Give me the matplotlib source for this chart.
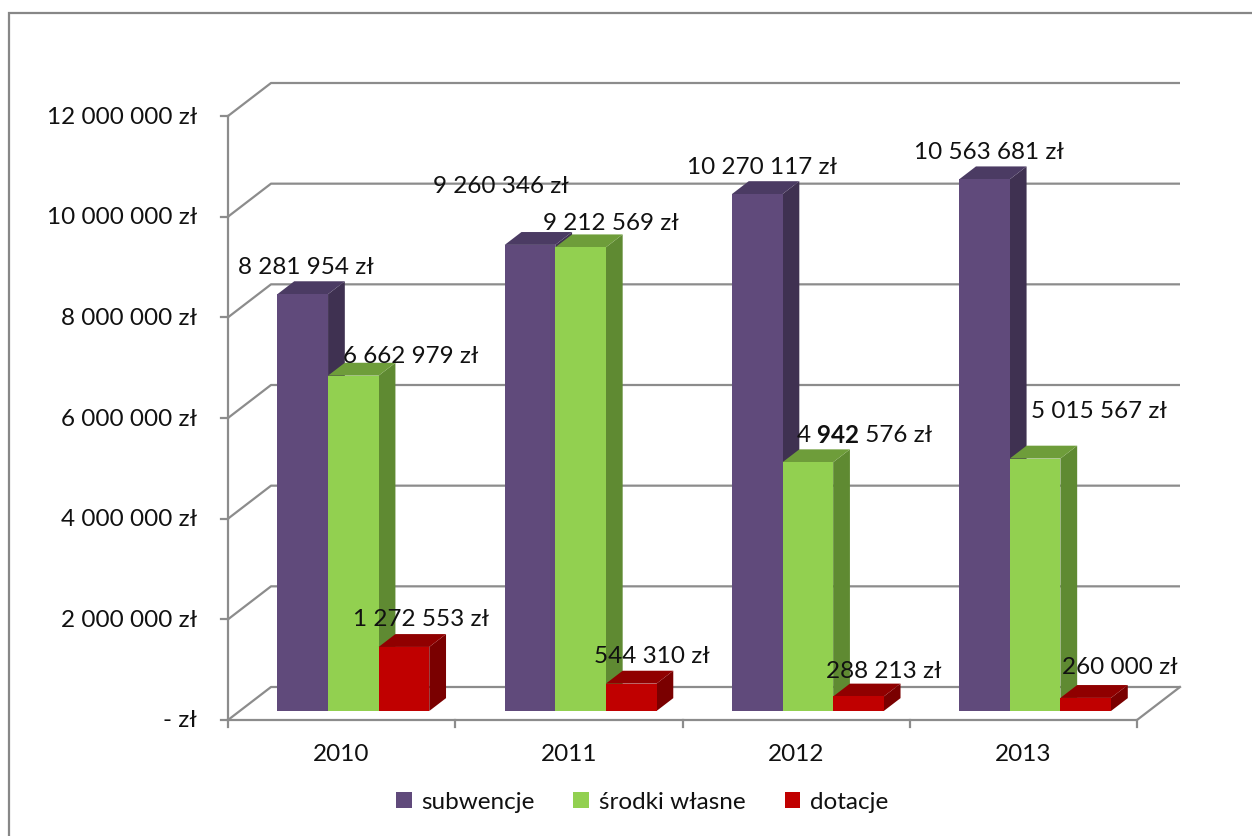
import numpy as np
import matplotlib
matplotlib.use("Agg")
import matplotlib.pyplot as plt
from matplotlib.patches import Polygon, Rectangle, Patch

plt.rcParams['font.family'] = ['Lato', 'DejaVu Sans']

# dane
lata = ['2010', '2011', '2012', '2013']
serie = ['subwencje', 'środki własne', 'dotacje']
subwencje = [8281954, 9260346, 10270117, 10563681]
srodki_wlasne = [6662979, 9212569, 4942576, 5015567]
dotacje = [1272553, 544310, 288213, 260000]
etykiety_osi = ['- zł', '2 000 000 zł', '4 000 000 zł', '6 000 000 zł',
                '8 000 000 zł', '10 000 000 zł', '12 000 000 zł']
wartosci_osi = [0, 2e6, 4e6, 6e6, 8e6, 10e6, 12e6]

wartosci = [subwencje, srodki_wlasne, dotacje]

# kolory: przod, bok, gora
kolory = [('#604A7B', '#3F3151', '#4B3B63'),
          ('#92D050', '#5F8A32', '#6E9D3A'),
          ('#C00000', '#7A0000', '#900000')]

# przesuniecia etykiet (px): dx, dy w gore
przes = [[(3, 28), (-29, 59), (5, 28), (4, 28)],
         [(57, 20), (30, 25), (57, 28), (64, 48)],
         [(17, 28), (21, 28), (25, 26), (34, 31)]]

W, H = 1252, 837
fig = plt.figure(figsize=(W / 100, H / 100), dpi=100)
x_l, x_r, y_0, y_12 = 228, 1137, 721, 117
ax = fig.add_axes([x_l / W, (H - y_0) / H, (x_r - x_l) / W, (y_0 - y_12) / H])
ax.set_xlim(-0.5, 3.5)
ax.set_ylim(0, 12e6)
ax.axis('off')

# glebokosc sciany w jednostkach danych
px_x = (x_r - x_l) / 4.0
px_y = (y_0 - y_12) / 12e6
ddx = 43 / px_x
ddy = 33 / px_y

siatka = '#8C8C8C'
lw = 1.6
tekst_kolor = '#111111'
# linie siatki: sciana tylna + lewa
for v in wartosci_osi:
    ax.plot([-0.5, -0.5 + ddx, 3.5 + ddx], [v, v + ddy, v + ddy],
            color=siatka, lw=lw, clip_on=False, zorder=1, solid_capstyle='butt')
    ax.plot([-0.5 - 7 / px_x, -0.5], [v, v], color=siatka, lw=lw, clip_on=False, zorder=1)
    ax.annotate(etykiety_osi[wartosci_osi.index(v)], (-0.5, v), xytext=(-31, 0),
                textcoords='offset pixels', ha='right', va='center', fontsize=17.5,
                color=tekst_kolor, annotation_clip=False)

# os pionowa i podloga
ax.plot([-0.5, -0.5], [0, 12e6], color=siatka, lw=lw, clip_on=False, zorder=1)
ax.plot([-0.5, 3.5, 3.5 + ddx], [0, 0, ddy], color=siatka, lw=lw, clip_on=False, zorder=1)
for g in range(5):
    ax.plot([g - 0.5, g - 0.5], [0, -7 / px_y], color=siatka, lw=lw, clip_on=False, zorder=1)

for g, rok in enumerate(lata):
    ax.annotate(rok, (g, 0), xytext=(0, -34), textcoords='offset pixels',
                ha='center', va='center', fontsize=17.5, color=tekst_kolor,
                annotation_clip=False)

# slupki 3d
bw = 50.6 / px_x
f0 = 9 / 33
d = 0.39
y0 = f0 * ddy
for i in range(3):
    przod, bok, gora = kolory[i]
    for g in range(4):
        v = wartosci[i][g]
        x0 = g - 1.5 * bw + i * bw + f0 * ddx
        x1 = x0 + bw
        z = 3 + i
        ax.add_patch(Polygon([(x1, y0), (x1 + d * ddx, y0 + d * ddy),
                              (x1 + d * ddx, y0 + v + d * ddy), (x1, y0 + v)],
                             closed=True, fc=bok, ec='none', zorder=z, clip_on=False))
        ax.add_patch(Polygon([(x0, y0 + v), (x1, y0 + v), (x1 + d * ddx, y0 + v + d * ddy),
                              (x0 + d * ddx, y0 + v + d * ddy)],
                             closed=True, fc=gora, ec='none', zorder=z, clip_on=False))
        ax.add_patch(Rectangle((x0, y0), bw, v, fc=przod, ec='none', zorder=z, clip_on=False))

        tekst = f"{v:,} zł".replace(',', ' ')
        dx, dy = przes[i][g]
        xy = ((x0 + x1) / 2, y0 + v)
        if tekst == '4 942 576 zł':
            # w oryginale srodek liczby jest pogrubiony
            t1 = ax.annotate('4', xy, xytext=(dx - 68, dy), textcoords='offset pixels',
                             ha='left', va='center', fontsize=17.5, color=tekst_kolor,
                             zorder=10, annotation_clip=False)
            t2 = ax.annotate(' 942', (1, 0.5), xycoords=t1, ha='left', va='center',
                             fontsize=17.5, fontweight='bold', color=tekst_kolor, zorder=10)
            ax.annotate(' 576 zł', (1, 0.5), xycoords=t2, ha='left', va='center',
                        fontsize=17.5, color=tekst_kolor, zorder=10)
        else:
            ax.annotate(tekst, xy, xytext=(dx, dy), textcoords='offset pixels',
                        ha='center', va='center', fontsize=17.5, color=tekst_kolor,
                        zorder=10, annotation_clip=False)

# legenda
uchwyty = [Patch(fc=kolory[i][0], ec='none', label=serie[i]) for i in range(3)]
fig.legend(handles=uchwyty, loc='center', bbox_to_anchor=(642 / W, (H - 803) / H),
           ncol=3, frameon=False, fontsize=17.5, handlelength=0.65, handleheight=0.65,
           handletextpad=0.4, columnspacing=1.6, labelcolor=tekst_kolor)

# ramka wykresu
fig.add_artist(Rectangle((9 / W, -0.1), 2, 1 - 14 / H + 0.1, transform=fig.transFigure,
                         fill=False, ec='#878787', lw=1.6))

fig.savefig('out.png', dpi=100)
